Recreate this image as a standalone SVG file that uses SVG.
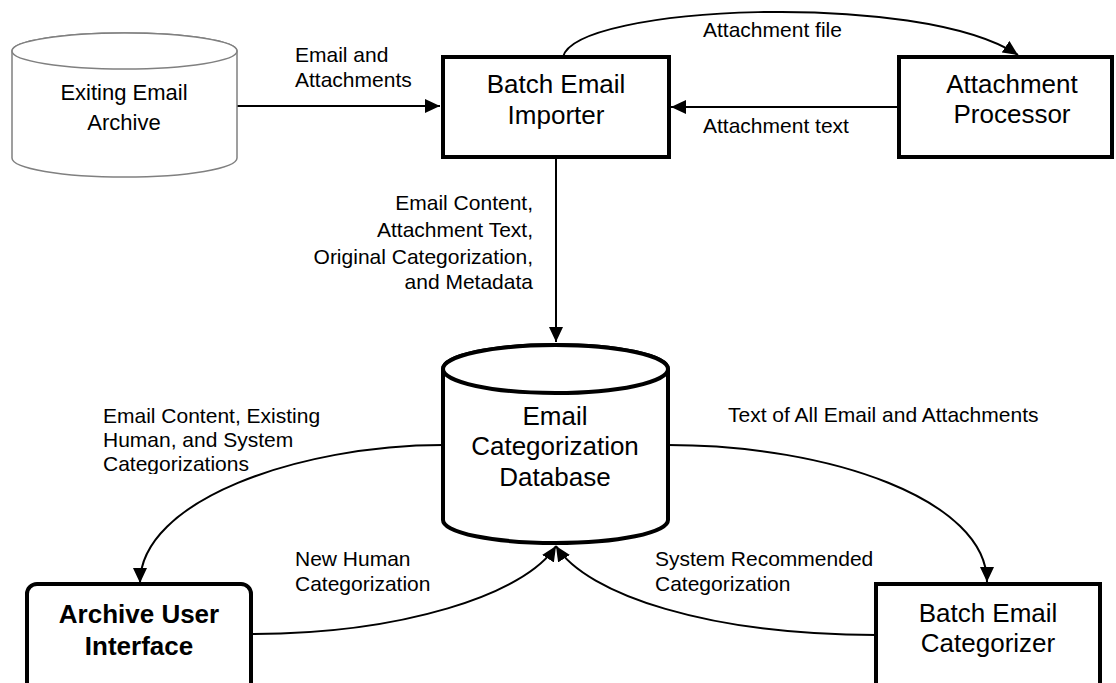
<svg xmlns="http://www.w3.org/2000/svg" width="1116" height="683" viewBox="0 0 1116 683">
<style>
text{font-family:"Liberation Sans",Arial,sans-serif;fill:#000}
.node{font-size:26px;text-anchor:middle}
.gray{font-size:22px;text-anchor:middle}
.bold{font-weight:bold}
.lbl{font-size:21px}
.box{fill:#fff;stroke:#000;stroke-width:4}
.cyl{fill:#fff;stroke:#000;stroke-width:4}
.gcyl{fill:#fff;stroke:#808080;stroke-width:1.5}
.conn{fill:none;stroke:#000;stroke-width:2}
</style>
<defs>
<marker id="arr" markerUnits="userSpaceOnUse" markerWidth="16" markerHeight="14" refX="15" refY="7" orient="auto">
<path d="M0,0 L15,7 L0,14 z" fill="#000"/>
</marker>
<clipPath id="clipLbl"><rect x="0" y="380" width="440" height="94"/></clipPath>
</defs>
<rect width="1116" height="683" fill="#fff"/>

<g id="connectors">
<path class="conn" d="M237,106 L440,106" marker-end="url(#arr)"/>
<path class="conn" d="M563,57 C575,5 920,-10 1018,55" marker-end="url(#arr)"/>
<path class="conn" d="M899,107 L671,107" marker-end="url(#arr)"/>
<path class="conn" d="M556,157 L556,342" marker-end="url(#arr)"/>
<path class="conn" d="M443,445 C300,445 140,500 140,583" marker-end="url(#arr)"/>
<path class="conn" d="M668,445 C830,445 987,500 987,582" marker-end="url(#arr)"/>
<path class="conn" d="M251,634 C400,634 525,595 556,546" marker-end="url(#arr)"/>
<path class="conn" d="M876,635 C710,635 587,595 556,546" marker-end="url(#arr)"/>
<text class="lbl" x="295" y="62">Email and</text>
<text class="lbl" x="295" y="87">Attachments</text>
<text class="lbl" x="703" y="37">Attachment file</text>
<text class="lbl" x="703" y="133">Attachment text</text>
<g text-anchor="end">
<text class="lbl" x="533" y="210">Email Content,</text>
<text class="lbl" x="533" y="237">Attachment Text,</text>
<text class="lbl" x="533" y="264">Original Categorization,</text>
<text class="lbl" x="533" y="289">and Metadata</text>
</g>
<g clip-path="url(#clipLbl)">
<text class="lbl" x="103" y="423">Email Content, Existing</text>
<text class="lbl" x="103" y="447">Human, and System</text>
<text class="lbl" x="103" y="471">Categorizations</text>
</g>
<text class="lbl" x="728" y="422">Text of All Email and Attachments</text>
<text class="lbl" x="295" y="566">New Human</text>
<text class="lbl" x="295" y="591">Categorization</text>
<text class="lbl" x="655" y="566">System Recommended</text>
<text class="lbl" x="655" y="591">Categorization</text>
</g>

<g id="existing-archive">
<path class="gcyl" d="M12,51 L12,158 A112.5,19 0 0 0 237,158 L237,51 A112.5,18 0 0 0 12,51 z"/>
<ellipse class="gcyl" cx="124.5" cy="51" rx="112.5" ry="18"/>
<text class="gray" x="124" y="100">Exiting Email</text>
<text class="gray" x="124" y="130">Archive</text>
</g>

<g id="batch-importer">
<rect class="box" x="443" y="57" width="226" height="100"/>
<text class="node" x="556" y="93">Batch Email</text>
<text class="node" x="556" y="124">Importer</text>
</g>

<g id="attachment-processor">
<rect class="box" x="899" y="57" width="213" height="100"/>
<text class="node" x="1012" y="93">Attachment</text>
<text class="node" x="1012" y="123">Processor</text>
</g>

<g id="categorization-db">
<path class="cyl" d="M443,369 L443,520 A112.5,23 0 0 0 668,520 L668,369 A112.5,24 0 0 0 443,369 z"/>
<ellipse class="cyl" cx="555.5" cy="369" rx="112.5" ry="24"/>
<text class="node" x="555" y="425">Email</text>
<text class="node" x="555" y="455">Categorization</text>
<text class="node" x="555" y="486">Database</text>
</g>

<g id="archive-ui">
<rect class="box" x="27" y="584" width="224" height="120" rx="10" ry="10"/>
<text class="node bold" x="139" y="623">Archive User</text>
<text class="node bold" x="139" y="655">Interface</text>
</g>

<g id="batch-categorizer">
<rect class="box" x="876" y="584" width="224" height="120"/>
<text class="node" x="988" y="622">Batch Email</text>
<text class="node" x="988" y="652">Categorizer</text>
</g>
</svg>
